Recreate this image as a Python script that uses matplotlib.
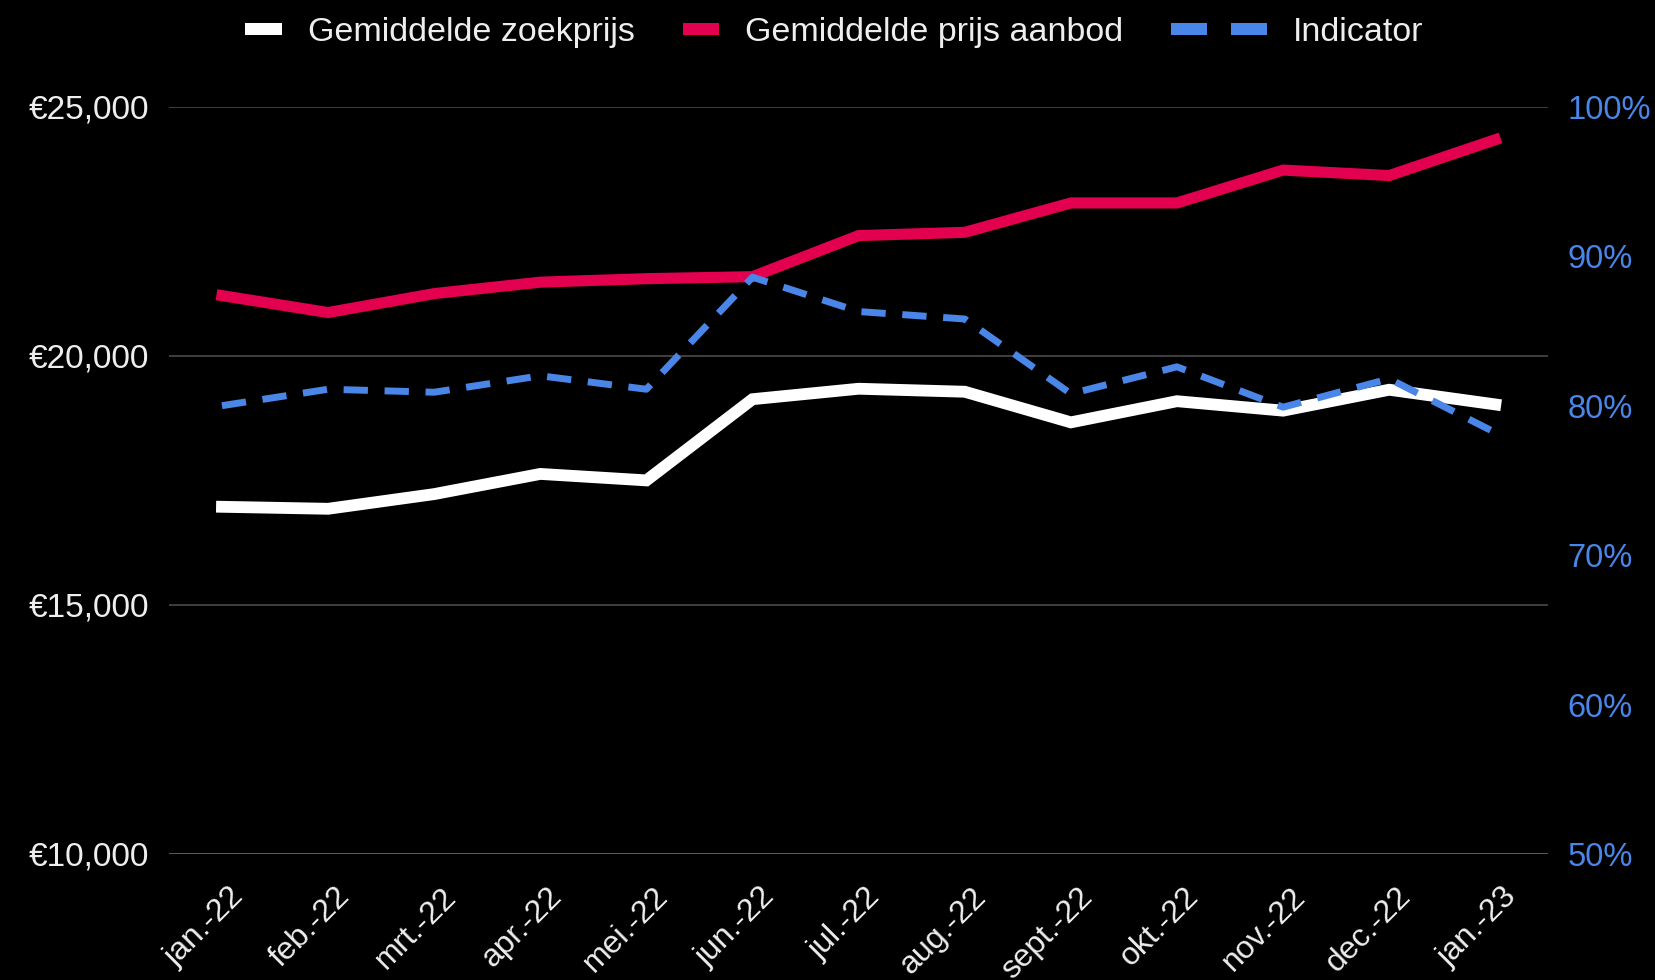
import matplotlib
matplotlib.use('Agg')
import matplotlib.pyplot as plt
import matplotlib.ticker as ticker
import matplotlib.transforms as mtransforms
from matplotlib.patches import Rectangle
from matplotlib.legend_handler import HandlerBase

months = ['jan.-22', 'feb.-22', 'mrt.-22', 'apr.-22', 'mei.-22', 'jun.-22', 'jul.-22',
          'aug.-22', 'sept.-22', 'okt.-22', 'nov.-22', 'dec.-22', 'jan.-23']
zoekprijs = [16970, 16930, 17225, 17630, 17500, 19130, 19340, 19280, 18665, 19090, 18900, 19320, 19025]
aanbod = [21210, 20870, 21250, 21480, 21550, 21590, 22415, 22480, 23070, 23070, 23730, 23620, 24340]
indicator = [80.0, 81.1, 80.9, 82.0, 81.1, 88.6, 86.3, 85.8, 80.8, 82.6, 79.9, 81.8, 78.2]

WHITE = '#ffffff'
RED = '#e2004f'
BLUE = '#4a86e8'
FONT = 'Liberation Sans'


class BlockHandler(HandlerBase):
    # legend key drawn as one or more small filled blocks
    def __init__(self, blocks=1, block_w=26, block_h=9, gap=17):
        super().__init__()
        self.blocks = blocks
        self.block_w = block_w
        self.block_h = block_h
        self.gap = gap

    def legend_artist(self, legend, orig_handle, fontsize, handlebox):
        handlebox.width = self.blocks * self.block_w + (self.blocks - 1) * self.gap
        return super().legend_artist(legend, orig_handle, fontsize, handlebox)

    def create_artists(self, legend, orig_handle, xdescent, ydescent, width, height, fontsize, trans):
        out = []
        for i in range(self.blocks):
            x0 = -xdescent + i * (self.block_w + self.gap)
            y0 = -ydescent + (height - self.block_h) / 2
            out.append(Rectangle((x0, y0), self.block_w, self.block_h,
                                 facecolor=orig_handle.get_color(), edgecolor='none', transform=trans))
        return out


fig = plt.figure(figsize=(16.56, 9.8), dpi=100, facecolor='black')
ax = fig.add_axes([0.102, 0.1286, 0.833, 0.7624], facecolor='black')
ax2 = ax.twinx()

x = list(range(len(months)))
l1, = ax.plot(x, zoekprijs, color=WHITE, linewidth=8.5, solid_joinstyle='miter', zorder=3)
l2, = ax.plot(x, aanbod, color=RED, linewidth=8, solid_joinstyle='miter', zorder=3)
l3, = ax2.plot(x, indicator, color=BLUE, linewidth=5, dashes=(3.5, 2.4),
               dash_capstyle='butt', zorder=3)

ax.set_xlim(-0.5, 12.5)
ax.set_ylim(10000, 25000)
ax2.set_ylim(50, 100)
ax.set_yticks([10000, 15000, 20000, 25000])
ax2.set_yticks([50, 60, 70, 80, 90, 100])
ax.yaxis.set_major_formatter(ticker.FuncFormatter(lambda v, p: '€' + format(int(v), ',')))
ax2.yaxis.set_major_formatter(ticker.FuncFormatter(lambda v, p: f'{int(v)}%'))

ax.grid(axis='y', color='#444444', linewidth=1.3)
ax.set_axisbelow(True)
for a in (ax, ax2):
    for s in ['top', 'left', 'right', 'bottom']:
        a.spines[s].set_visible(False)
ax.axhline(10000, color='#5a5a5a', linewidth=2.2, zorder=2)

ax.tick_params(axis='y', length=0, pad=14, labelsize=24, labelcolor='#eeeeee')
ax2.tick_params(axis='y', length=0, pad=14, labelsize=23.5, labelcolor=BLUE)
for lab in ax.get_yticklabels() + ax2.get_yticklabels():
    lab.set_fontfamily(FONT)

ax.set_xticks(x)
ax.set_xticklabels(months, rotation=45, ha='right', va='top', rotation_mode='anchor',
                   fontsize=23, color='#eeeeee', fontfamily=FONT)
ax.tick_params(axis='x', length=0, pad=20)
shift = mtransforms.ScaledTranslation(5 / 72, 0, fig.dpi_scale_trans)
for lab in ax.get_xticklabels():
    lab.set_transform(lab.get_transform() + shift)

leg = ax2.legend([l1, l2, l3], ['Gemiddelde zoekprijs', 'Gemiddelde prijs aanbod', 'Indicator'],
                 handler_map={l1: BlockHandler(1), l2: BlockHandler(1), l3: BlockHandler(2)},
                 loc='center', bbox_to_anchor=(0.504, 0.967), bbox_transform=fig.transFigure,
                 ncol=3, frameon=False, handletextpad=0.78, columnspacing=1.4,
                 prop={'family': FONT, 'size': 24.5})
for t in leg.get_texts():
    t.set_color('#eeeeee')

fig.savefig('out.png', dpi=100, facecolor='black')
